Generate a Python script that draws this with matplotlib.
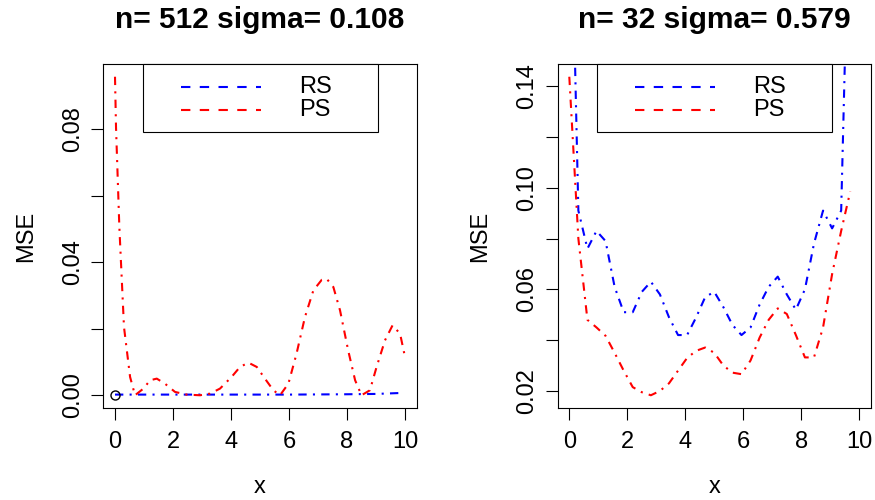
import matplotlib
matplotlib.use("Agg")
import matplotlib.pyplot as plt
from matplotlib.lines import Line2D
from matplotlib.patches import Rectangle

plt.rcParams['font.family'] = ['Liberation Sans', 'DejaVu Sans']

# ---------------- data ----------------
titles = ["n= 512 sigma= 0.108", "n= 32 sigma= 0.579"]
series_names = ["RS", "PS"]
series_colors = ["blue", "red"]

# left panel (n = 512)
x512_ps = [0.0, 0.035, 0.15, 0.31, 0.52, 0.69, 0.98, 1.21, 1.44, 1.72, 2.07, 2.47,
           2.93, 3.28, 3.62, 4.02, 4.31, 4.60, 4.89, 5.17, 5.46, 5.69, 5.98, 6.26,
           6.55, 6.84, 7.13, 7.30, 7.53, 7.76, 8.04, 8.28, 8.50, 8.79, 9.02, 9.31,
           9.57, 9.83, 10.0]
mse512_ps = [0.0957, 0.0805, 0.0505, 0.0205, 0.0055, 0.0, 0.0020, 0.0045, 0.0050,
             0.0035, 0.0010, 0.0002, 0.0, 0.0005, 0.0020, 0.0055, 0.0085, 0.0098,
             0.0085, 0.0050, 0.0015, 0.0, 0.0035, 0.0125, 0.0235, 0.0315, 0.0347,
             0.0350, 0.0325, 0.0255, 0.0135, 0.0045, 0.0, 0.0015, 0.0085, 0.0165,
             0.0210, 0.0185, 0.0115]
x512_rs = [0.0, 2.0, 4.0, 6.0, 8.0, 9.0, 9.9]
mse512_rs = [0.0002, 0.0002, 0.0002, 0.0002, 0.0003, 0.0004, 0.0007]

# right panel (n = 32)
x32 = [0.0, 0.3125, 0.625, 0.9375, 1.25, 1.5625, 1.875, 2.1875, 2.5, 2.8125,
       3.125, 3.4375, 3.75, 4.0625, 4.375, 4.6875, 5.0, 5.3125, 5.625, 5.9375,
       6.25, 6.5625, 6.875, 7.1875, 7.5, 7.8125, 8.125, 8.4375, 8.75, 9.0625,
       9.375, 9.6875]
mse32_rs = [0.249, 0.091, 0.076, 0.083, 0.079, 0.061, 0.051, 0.051, 0.059, 0.063,
            0.058, 0.049, 0.042, 0.042, 0.049, 0.057, 0.059, 0.053, 0.046, 0.042,
            0.045, 0.054, 0.061, 0.065, 0.058, 0.052, 0.060, 0.078, 0.091, 0.084,
            0.091, 0.235]
mse32_ps = [0.1437, 0.080, 0.048, 0.045, 0.0417, 0.035, 0.028, 0.0215, 0.0195, 0.0183,
            0.0200, 0.0230, 0.028, 0.033, 0.0358, 0.0371, 0.0350, 0.030, 0.0272, 0.0266,
            0.032, 0.041, 0.048, 0.0525, 0.0503, 0.042, 0.0332, 0.0332, 0.045, 0.066,
            0.083, 0.0985]

xticks = [0, 2, 4, 6, 8, 10]
xticklabels = ["0", "2", "4", "6", "8", "10"]
yticks_left = [0.00, 0.02, 0.04, 0.06, 0.08]
yticklabels_left = ["0.00", "", "0.04", "", "0.08"]
yticks_right = [0.02, 0.04, 0.06, 0.08, 0.10, 0.12, 0.14]
yticklabels_right = ["0.02", "", "0.06", "", "0.10", "", "0.14"]

# ---------------- figure ----------------
W, H = 875, 500
fig = plt.figure(figsize=(W / 100, H / 100), dpi=100)

AX_TOP, AX_BOT = 64, 408
AX_W = 313.2
panels = [
    dict(left=103.4, title=titles[0],
         rs=(x512_rs, mse512_rs), ps=(x512_ps, mse512_ps),
         yticks=yticks_left, ylabels=yticklabels_left, point=True),
    dict(left=557.7, title=titles[1],
         rs=(x32, mse32_rs), ps=(x32, mse32_ps),
         yticks=yticks_right, ylabels=yticklabels_right, point=False),
]

lw = 1.5
plot_ls = (0, (4, 3, 1, 3))
leg_ls = (0, (4.5, 4.5))
FS = 17

for p in panels:
    ax = fig.add_axes([p["left"] / W, (H - AX_BOT) / H, AX_W / W, (AX_BOT - AX_TOP) / H])
    xr, yr = p["rs"]
    xp, yp = p["ps"]
    ax.plot(xr, yr, color="blue", lw=lw, ls=plot_ls)
    ax.plot(xp, yp, color="red", lw=lw, ls=plot_ls)
    if p["point"]:
        ax.plot([0], [0], marker="o", ms=6.5, mfc="none", mec="black", mew=1.0, ls="none")

    lo, hi = min(yp), max(yp)
    pad = 0.04 * (hi - lo)
    ax.set_ylim(lo - pad, hi + pad)
    ax.set_xlim(-0.4, 10.4)

    ax.set_xticks(xticks)
    ax.set_xticklabels(xticklabels)
    ax.set_yticks(p["yticks"])
    ax.set_yticklabels(p["ylabels"])
    ax.tick_params(axis="both", direction="out", length=8.3, width=0.8,
                   color="black", labelsize=FS)
    ax.tick_params(axis="x", pad=8.5)
    ax.tick_params(axis="y", pad=5.5, labelrotation=90)
    for lab in ax.get_yticklabels():
        lab.set_va("center")
    for s in ax.spines.values():
        s.set_linewidth(0.8)
        s.set_color("black")

    # title
    ax.text(0.5, (AX_BOT - 28) / (AX_BOT - AX_TOP), p["title"], transform=ax.transAxes,
            ha="center", va="baseline", fontsize=21.5, fontweight="bold")
    # axis labels
    ax.text(0.5, (AX_BOT - 493) / (AX_BOT - AX_TOP), "x", transform=ax.transAxes,
            ha="center", va="baseline", fontsize=FS)
    ax.text(-71.5 / AX_W, 0.5, "MSE", transform=ax.transAxes, rotation=90,
            rotation_mode="anchor", ha="center", va="baseline", fontsize=FS)

    # legend box
    bx0, bx1 = 0.1255, 0.877
    by0 = (AX_BOT - 131.7) / (AX_BOT - AX_TOP)
    ax.add_patch(Rectangle((bx0, by0), bx1 - bx0, 1 - by0, transform=ax.transAxes,
                           facecolor="white", edgecolor="black", lw=0.8, zorder=5,
                           clip_on=False))
    for name, col, ypix in zip(series_names, series_colors, [86.7, 109.5]):
        yy = (AX_BOT - ypix) / (AX_BOT - AX_TOP)
        ax.add_line(Line2D([0.247, 0.502], [yy, yy], transform=ax.transAxes,
                           color=col, lw=lw, ls=leg_ls, zorder=6))
        ax.text(0.625, yy, name, transform=ax.transAxes, ha="left", va="center",
                fontsize=FS, zorder=7)

fig.savefig("out.png", dpi=100)
